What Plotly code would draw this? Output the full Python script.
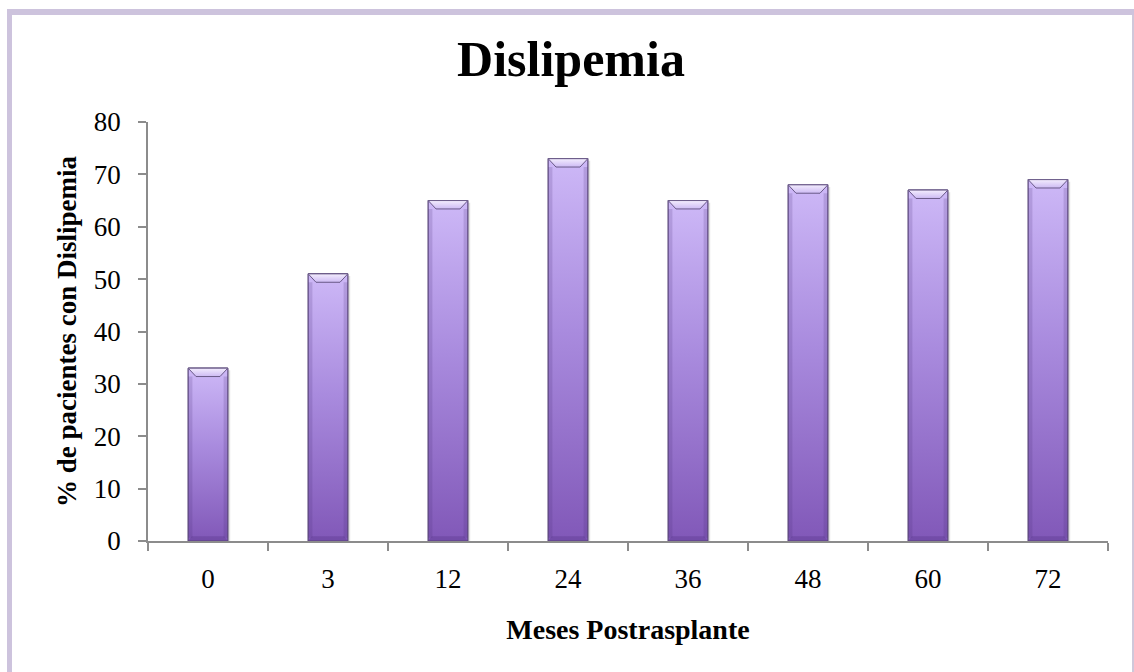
import plotly.graph_objects as go

# Percentage of patients with dyslipidemia at each post-transplant month
months = ["0", "3", "12", "24", "36", "48", "60", "72"]
pct_dyslipidemia = [33, 51, 65, 73, 65, 68, 67, 69]
y_ticks = [0, 10, 20, 30, 40, 50, 60, 70, 80]

BAR_W = 0.33        # bar width in category units
HALF = BAR_W / 2
BEVEL_X = 0.065     # horizontal inset of the top bevel
BEVEL_Y = 1.6       # vertical depth of the top bevel
SIDE = 0.035        # width of the darker side strips
FONT = "Liberation Serif"

fig = go.Figure()

# Base bars (solid fill), drawn straight from the values
fig.add_trace(go.Bar(
    x=list(range(len(months))), y=pct_dyslipidemia, width=BAR_W,
    marker=dict(color="#A68AD8", line=dict(color="#5A4878", width=1)),
    hoverinfo="skip", showlegend=False,
))

for i, v in enumerate(pct_dyslipidemia):
    x0, x1 = i - HALF, i + HALF
    # soft drop shadow to the right
    fig.add_trace(go.Scatter(
        x=[x1, x1 + 0.02, x1 + 0.02, x1, x1], y=[0, 0, v - 0.4, v - 0.4, 0],
        fill="toself", fillcolor="rgba(90,90,90,0.18)", line=dict(width=0),
        mode="lines", hoverinfo="skip", showlegend=False,
    ))
    # vertical gradient body
    fig.add_trace(go.Scatter(
        x=[x0, x1, x1, x0, x0], y=[0, 0, v, v, 0],
        fill="toself",
        fillgradient=dict(type="vertical",
                          colorscale=[[0, "#8158B8"], [0.55, "#A98BDE"], [1, "#CDB8F7"]]),
        line=dict(color="#5E4C7E", width=1),
        mode="lines", hoverinfo="skip", showlegend=False,
    ))
    # darker side strips
    for sx0, sx1 in ((x0, x0 + SIDE), (x1 - SIDE, x1)):
        fig.add_trace(go.Scatter(
            x=[sx0, sx1, sx1, sx0, sx0], y=[0.6, 0.6, v - BEVEL_Y, v - BEVEL_Y, 0.6],
            fill="toself", fillcolor="rgba(70,45,115,0.18)", line=dict(width=0),
            mode="lines", hoverinfo="skip", showlegend=False,
        ))
    # bottom bevel
    fig.add_trace(go.Scatter(
        x=[x0, x1, x1 - 0.03, x0 + 0.03, x0], y=[0, 0, 0.9, 0.9, 0],
        fill="toself", fillcolor="rgba(70,40,120,0.25)", line=dict(width=0),
        mode="lines", hoverinfo="skip", showlegend=False,
    ))
    # top bevel highlight
    fig.add_trace(go.Scatter(
        x=[x0, x1, x1 - BEVEL_X, x0 + BEVEL_X, x0],
        y=[v, v, v - BEVEL_Y, v - BEVEL_Y, v],
        fill="toself",
        fillgradient=dict(type="vertical",
                          colorscale=[[0, "#CDBAF4"], [1, "#F3EDFD"]]),
        line=dict(color="#6A5A88", width=1),
        mode="lines", hoverinfo="skip", showlegend=False,
    ))

axis_col = "#8C8C8C"

fig.update_layout(
    width=1134, height=672,
    margin=dict(l=148, r=26, t=122, b=131),
    paper_bgcolor="white", plot_bgcolor="white",
    font=dict(family=FONT, color="black"),
    title=dict(text="<b>Dislipemia</b>", font=dict(family=FONT, size=50, color="black"),
               x=(571 - 148) / 960, xanchor="center", xref="paper",
               y=1 - 58 / 672, yanchor="middle", yref="container"),
    xaxis=dict(
        range=[-0.5, len(months) - 0.5],
        tickmode="array", tickvals=list(range(len(months))), ticktext=months,
        ticks="", showgrid=False, zeroline=False,
        showline=True, linecolor=axis_col, linewidth=1.5,
        tickfont=dict(family=FONT, size=27, color="black"),
        ticklabelstandoff=13,
        minor=dict(ticks="outside", tick0=-0.5, dtick=1, ticklen=8,
                   tickcolor=axis_col, tickwidth=1.5, showgrid=False),
        title=dict(text="<b>Meses Postrasplante</b>",
                   font=dict(family=FONT, size=28, color="black"), standoff=26),
        fixedrange=True,
    ),
    yaxis=dict(
        range=[0, 80], tickmode="array", tickvals=y_ticks,
        ticks="outside", ticklen=8, tickcolor=axis_col, tickwidth=1.5,
        showgrid=False, zeroline=False,
        showline=True, linecolor=axis_col, linewidth=1.5,
        tickfont=dict(family=FONT, size=27, color="black"),
        ticklabelstandoff=12,
        title=dict(text="<b>% de pacientes con Dislipemia</b>",
                   font=dict(family=FONT, size=27, color="black"), standoff=9),
        fixedrange=True,
    ),
    bargap=0.67,
)

# Lavender frame around the chart area
frame = "#CDC3DD"
fig.add_shape(type="rect", xref="paper", yref="paper",
              x0=(7 - 148) / 960, x1=(1134 - 148) / 960,
              y0=(541 - 15) / 419, y1=(541 - 9) / 419,
              fillcolor=frame, line=dict(width=0), layer="above")
fig.add_shape(type="rect", xref="paper", yref="paper",
              x0=(7 - 148) / 960, x1=(12 - 148) / 960,
              y0=(541 - 672) / 419, y1=(541 - 9) / 419,
              fillcolor=frame, line=dict(width=0), layer="above")
fig.add_shape(type="line", xref="paper", yref="paper",
              x0=(1133 - 148) / 960, x1=(1133 - 148) / 960,
              y0=(541 - 672) / 419, y1=(541 - 15) / 419,
              line=dict(color="#CFC8DA", width=2), layer="above")

fig.write_html("out.html")
